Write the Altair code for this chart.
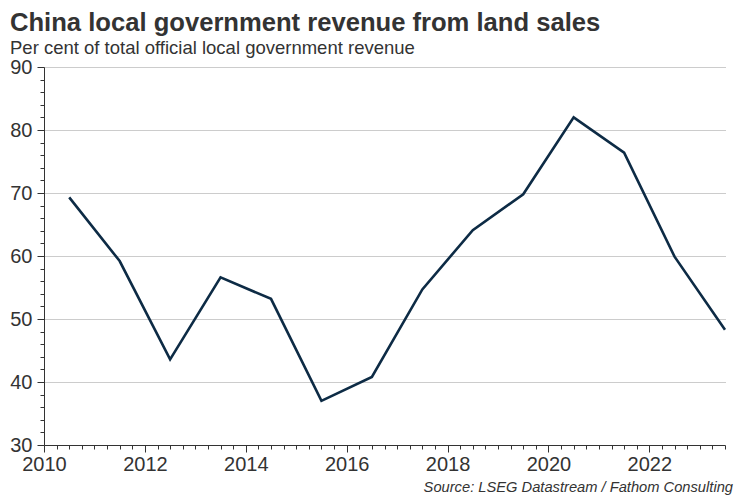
import altair as alt
import pandas as pd

# Land sales share of local government revenue, mid-year points
years = [2010.5, 2011.5, 2012.5, 2013.5, 2014.5, 2015.5, 2016.5,
         2017.5, 2018.5, 2019.5, 2020.5, 2021.5, 2022.5, 2023.5]
share = [69.3, 59.2, 43.6, 56.6, 53.2, 37.0, 40.8,
         54.7, 64.1, 69.8, 82.0, 76.4, 59.9, 48.3]

x_ticks = [2010 + q * 0.25 for q in range(55)]
y_ticks = list(range(30, 92, 2))

df = pd.DataFrame({"year": years, "share": share})

FONT = "Liberation Sans"
INK = "#333333"
W, H = 681, 378

x_axis = alt.Axis(
    values=x_ticks,
    labelExpr="datum.value % 2 === 0 ? toString(datum.value) : ''",
    labelOverlap=False,
    labelFlush=False,
    labelFont=FONT,
    labelFontSize=20,
    labelColor=INK,
    labelPadding=2,
    grid=False,
    domainColor=INK,
    tickColor=INK,
    tickSize={"condition": {"test": "datum.value % 2 === 0", "value": 7}, "value": 4},
    title=None,
)

y_axis = alt.Axis(
    values=y_ticks,
    labelExpr="datum.value % 10 === 0 ? toString(datum.value) : ''",
    labelOverlap=False,
    labelFlush=False,
    labelFont=FONT,
    labelFontSize=20,
    labelColor=INK,
    labelPadding=5,
    grid=True,
    gridColor="#999999",
    gridDash=[1, 1],
    gridOpacity={"condition": {"test": "datum.value % 10 === 0 && datum.value > 30", "value": 1}, "value": 0},
    domainColor=INK,
    tickColor=INK,
    tickSize={"condition": {"test": "datum.value % 10 === 0", "value": 7}, "value": 4},
    title=None,
)

line = alt.Chart(df).mark_line(color="#0d2b45", strokeWidth=2.6).encode(
    x=alt.X("year:Q", axis=x_axis, scale=alt.Scale(domain=[2010, 2023.5], nice=False, zero=False)),
    y=alt.Y("share:Q", axis=y_axis, scale=alt.Scale(domain=[30, 90], nice=False, zero=False)),
)

source = alt.Chart(pd.DataFrame({"t": ["Source: LSEG Datastream / Fathom Consulting"]})).mark_text(
    align="right", baseline="alphabetic", font=FONT, fontSize=14.7, fontStyle="italic", color=INK
).encode(
    x=alt.value(W + 8),
    y=alt.value(H + 47),
    text="t:N",
)

chart = alt.layer(line, source).properties(
    width=W,
    height=H,
    autosize=alt.AutoSizeParams(type="none"),
    padding={"left": 36, "top": 59, "right": 17, "bottom": 50},
    title=alt.TitleParams(
        text="China local government revenue from land sales",
        subtitle="Per cent of total official local government revenue",
        anchor="start",
        frame="group",
        dx=-34,
        font=FONT,
        fontSize=25.6,
        fontWeight="bold",
        color=INK,
        subtitleFont=FONT,
        subtitleFontSize=18.5,
        subtitleColor=INK,
        subtitlePadding=2,
        offset=0,
    ),
).configure_view(stroke=None)

chart.save("out.html", embed_options={"renderer": "svg", "actions": False})
